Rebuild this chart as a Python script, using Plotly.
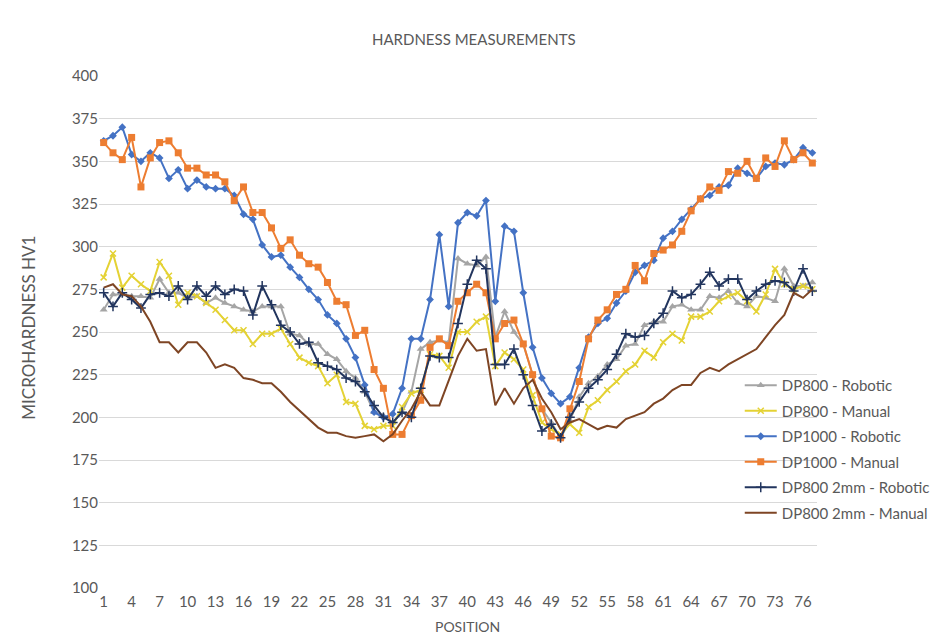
import plotly.graph_objects as go

positions = list(range(1, 78))
tick_labels = list(range(1, 78, 3))

dp800_robotic = [263, 272, 272, 271, 271, 270, 281, 273, 273, 270, 271, 267, 270, 267, 265, 263, 262, 265, 265, 265,
                 249, 248, 243, 243, 237, 234, 227, 223, 215, 203, 201, 197, 203, 215, 240, 244, 245, 244, 293, 290,
                 289, 294, 247, 262, 250, 243, 225, 205, 197, 188, 198, 212, 220, 224, 231, 234, 242, 243, 254, 256,
                 256, 265, 266, 263, 263, 271, 270, 274, 267, 265, 271, 270, 268, 287, 277, 277, 279]
dp800_manual = [282, 296, 276, 283, 278, 274, 291, 283, 266, 273, 271, 267, 263, 257, 251, 251, 243, 249, 249, 252,
                243, 235, 232, 230, 220, 225, 209, 208, 195, 193, 195, 195, 206, 214, 216, 237, 236, 229, 250, 250,
                256, 259, 230, 238, 234, 228, 213, 197, 193, 190, 196, 191, 206, 210, 216, 221, 227, 231, 239, 235,
                244, 249, 245, 259, 259, 262, 268, 271, 273, 268, 262, 272, 287, 278, 275, 277, 275]
dp1000_robotic = [362, 365, 370, 354, 350, 355, 352, 340, 345, 334, 339, 335, 334, 334, 330, 319, 316, 301, 294, 295,
                  288, 282, 275, 269, 260, 255, 246, 235, 219, 203, 200, 202, 217, 246, 246, 269, 307, 265, 314, 320,
                  318, 327, 268, 312, 309, 273, 241, 223, 214, 208, 212, 229, 247, 255, 258, 267, 274, 285, 289, 292,
                  305, 309, 316, 322, 328, 330, 335, 336, 346, 343, 340, 347, 349, 348, 351, 358, 355]
dp1000_manual = [361, 355, 351, 364, 335, 352, 361, 362, 355, 346, 346, 342, 342, 338, 327, 335, 320, 320, 311, 299,
                 304, 295, 290, 288, 279, 268, 266, 248, 251, 228, 217, 190, 190, 201, 210, 241, 246, 242, 268, 273,
                 278, 273, 246, 255, 257, 243, 225, 205, 189, 188, 205, 221, 246, 257, 263, 272, 275, 289, 280, 296,
                 298, 301, 309, 321, 328, 335, 333, 344, 343, 350, 340, 352, 347, 362, 351, 355, 349]
dp800_2mm_robotic = [273, 265, 273, 269, 264, 272, 273, 271, 277, 269, 277, 271, 277, 272, 275, 274, 260, 277, 266, 254,
                     250, 243, 244, 232, 230, 228, 223, 221, 215, 207, 200, 197, 203, 200, 217, 236, 235, 235, 255, 278,
                     292, 287, 231, 231, 240, 225, 207, 192, 196, 188, 200, 209, 217, 222, 228, 237, 249, 247, 248, 255,
                     261, 274, 270, 272, 278, 285, 277, 281, 281, 269, 274, 278, 280, 279, 274, 287, 274]
dp800_2mm_manual = [276, 278, 272, 271, 265, 256, 244, 244, 238, 244, 244, 238, 229, 231, 229, 223, 222, 220, 220, 215,
                    209, 204, 199, 194, 191, 191, 189, 188, 189, 190, 186, 190, 198, 205, 215, 207, 207, 222, 236, 246,
                    239, 240, 207, 217, 208, 217, 222, 211, 203, 193, 197, 199, 196, 193, 195, 194, 199, 201, 203, 208,
                    211, 216, 219, 219, 226, 229, 227, 231, 234, 237, 240, 247, 254, 260, 273, 270, 275]

series = [
    ("DP800 - Robotic", dp800_robotic, "#A5A5A5", "triangle-up", 7),
    ("DP800 - Manual", dp800_manual, "#E4D234", "x-thin", 6),
    ("DP1000 - Robotic", dp1000_robotic, "#4472C4", "diamond", 6),
    ("DP1000 - Manual", dp1000_manual, "#ED7D31", "square", 7),
    ("DP800 2mm - Robotic", dp800_2mm_robotic, "#22355E", "cross-thin", 7),
    ("DP800 2mm - Manual", dp800_2mm_manual, "#7E4524", None, 0),
]

W, H = 939, 642
l, r, t, b = 91, 123, 68, 62
pw, ph = W - l - r, H - t - b

fig = go.Figure()
for i, (name, vals, color, sym, size) in enumerate(series):
    if sym is None:
        mode = "lines"
        marker = None
    else:
        mode = "lines+markers"
        marker = dict(symbol=sym, size=size, color=color,
                      line=dict(color=color, width=1.5 if "thin" in sym else 0))
    fig.add_trace(go.Scatter(
        x=positions, y=vals, name=name, mode=mode,
        line=dict(color=color, width=2),
        marker=marker, legendgroup=f"g{i}",
    ))

grey = "#595959"


def px_x(px):
    return (px - l) / pw


def px_y(py):
    return (H - b - py) / ph


fig.update_layout(
    width=W, height=H,
    margin=dict(l=l, r=r, t=t, b=b),
    paper_bgcolor="white", plot_bgcolor="white",
    font=dict(family="Lato, DejaVu Sans, sans-serif", color=grey, size=14),
    showlegend=True,
    legend=dict(x=px_x(738), xanchor="left", y=px_y(361), yanchor="top",
                bgcolor="rgba(0,0,0,0)", font=dict(size=15, color=grey),
                tracegroupgap=3, itemwidth=32),
    xaxis=dict(range=[0.5, 77.5], tickmode="array", tickvals=tick_labels,
               ticktext=[str(v) for v in tick_labels], showgrid=False, zeroline=False,
               showline=False, ticks="", ticklabelstandoff=3,
               tickfont=dict(size=15, color=grey)),
    yaxis=dict(range=[100, 400], dtick=25, showgrid=True, gridcolor="#D9D9D9", gridwidth=1,
               zeroline=False, showline=False, ticks="", tickfont=dict(size=15, color=grey)),
    annotations=[
        dict(text="HARDNESS MEASUREMENTS", xref="paper", yref="paper", x=px_x(470), y=px_y(31),
             xanchor="center", yanchor="middle", showarrow=False, font=dict(size=15, color=grey)),
        dict(text="MICROHARDNESS HV1", textangle=-90, xref="paper", yref="paper",
             x=px_x(19), y=px_y(320), xanchor="center", yanchor="middle", showarrow=False,
             font=dict(size=17, color=grey)),
        dict(text="POSITION", xref="paper", yref="paper", x=px_x(463), y=px_y(618),
             xanchor="center", yanchor="middle", showarrow=False, font=dict(size=14, color=grey)),
    ],
)

fig.write_html("out.html")
